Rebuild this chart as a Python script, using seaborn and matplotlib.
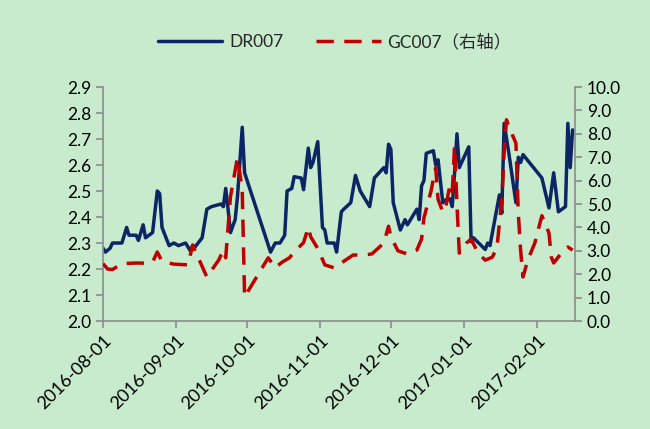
import pandas as pd
import matplotlib
matplotlib.use('Agg')
import matplotlib.pyplot as plt
import matplotlib.dates as mdates
import seaborn as sns

# DR007 (left axis)
dr_dates = ['2016-08-01', '2016-08-02', '2016-08-04', '2016-08-05', '2016-08-09', '2016-08-11',
            '2016-08-12', '2016-08-15', '2016-08-16', '2016-08-18', '2016-08-19', '2016-08-22',
            '2016-08-24', '2016-08-25', '2016-08-26', '2016-08-29', '2016-08-31', '2016-09-02',
            '2016-09-05', '2016-09-07', '2016-09-08', '2016-09-09', '2016-09-12', '2016-09-14',
            '2016-09-16', '2016-09-20', '2016-09-21', '2016-09-22', '2016-09-23', '2016-09-24',
            '2016-09-26', '2016-09-27', '2016-09-29', '2016-09-30', '2016-10-11', '2016-10-13',
            '2016-10-15', '2016-10-17', '2016-10-18', '2016-10-20', '2016-10-21', '2016-10-24',
            '2016-10-25', '2016-10-27', '2016-10-28', '2016-10-29', '2016-10-31', '2016-11-02',
            '2016-11-03', '2016-11-04', '2016-11-07', '2016-11-08', '2016-11-10', '2016-11-11',
            '2016-11-14', '2016-11-16', '2016-11-18', '2016-11-22', '2016-11-24', '2016-11-28',
            '2016-11-29', '2016-11-30', '2016-12-01', '2016-12-02', '2016-12-05', '2016-12-07',
            '2016-12-08', '2016-12-12', '2016-12-13', '2016-12-14', '2016-12-15', '2016-12-16',
            '2016-12-19', '2016-12-20', '2016-12-21', '2016-12-23', '2016-12-24', '2016-12-26',
            '2016-12-27', '2016-12-28', '2016-12-29', '2016-12-30', '2017-01-03', '2017-01-04',
            '2017-01-05', '2017-01-10', '2017-01-11', '2017-01-12', '2017-01-16', '2017-01-17',
            '2017-01-18', '2017-01-20', '2017-01-23', '2017-01-24', '2017-01-25', '2017-01-26',
            '2017-02-03', '2017-02-06', '2017-02-08', '2017-02-10', '2017-02-13', '2017-02-14',
            '2017-02-15', '2017-02-16']
dr_values = [2.28, 2.265, 2.28, 2.30, 2.30, 2.36,
             2.33, 2.33, 2.31, 2.37, 2.32, 2.34,
             2.50, 2.49, 2.36, 2.29, 2.30, 2.29,
             2.30, 2.27, 2.29, 2.285, 2.32, 2.43,
             2.44, 2.45, 2.44, 2.51, 2.43, 2.34,
             2.39, 2.48, 2.745, 2.57, 2.265, 2.30,
             2.30, 2.33, 2.50, 2.51, 2.555, 2.55,
             2.505, 2.665, 2.59, 2.61, 2.69, 2.36,
             2.35, 2.30, 2.30, 2.265, 2.42, 2.43,
             2.455, 2.56, 2.50, 2.44, 2.55, 2.59,
             2.57, 2.68, 2.66, 2.455, 2.35, 2.39,
             2.37, 2.43, 2.39, 2.52, 2.54, 2.645,
             2.655, 2.60, 2.62, 2.455, 2.465, 2.47,
             2.44, 2.57, 2.72, 2.59, 2.67, 2.305,
             2.32, 2.275, 2.30, 2.29, 2.485, 2.415,
             2.76, 2.645, 2.455, 2.63, 2.61, 2.64,
             2.55, 2.435, 2.57, 2.42, 2.44, 2.76,
             2.59, 2.735]

# GC007 (right axis)
gc_dates = ['2016-08-01', '2016-08-03', '2016-08-05', '2016-08-09', '2016-08-15', '2016-08-19',
            '2016-08-22', '2016-08-24', '2016-08-26', '2016-08-31', '2016-09-06', '2016-09-08',
            '2016-09-14', '2016-09-19', '2016-09-21', '2016-09-22', '2016-09-24', '2016-09-27',
            '2016-09-29', '2016-09-30', '2016-10-10', '2016-10-13', '2016-10-16', '2016-10-19',
            '2016-10-21', '2016-10-25', '2016-10-27', '2016-10-28', '2016-10-31', '2016-11-03',
            '2016-11-07', '2016-11-11', '2016-11-15', '2016-11-20', '2016-11-23', '2016-11-28',
            '2016-11-30', '2016-12-01', '2016-12-04', '2016-12-08', '2016-12-12', '2016-12-14',
            '2016-12-15', '2016-12-18', '2016-12-20', '2016-12-21', '2016-12-23', '2016-12-24',
            '2016-12-26', '2016-12-27', '2016-12-28', '2016-12-29', '2016-12-30', '2017-01-02',
            '2017-01-04', '2017-01-07', '2017-01-10', '2017-01-13', '2017-01-15', '2017-01-16',
            '2017-01-17', '2017-01-18', '2017-01-19', '2017-01-20', '2017-01-23', '2017-01-24',
            '2017-01-25', '2017-01-26', '2017-01-28', '2017-01-31', '2017-02-03', '2017-02-06',
            '2017-02-07', '2017-02-08', '2017-02-12', '2017-02-14', '2017-02-16']
gc_values = [2.45, 2.22, 2.20, 2.45, 2.48, 2.47,
             2.52, 2.95, 2.55, 2.43, 2.40, 3.25,
             1.88, 2.60, 3.03, 2.70, 5.30, 7.00,
             5.60, 1.03, 2.70, 2.28, 2.52, 2.70,
             2.95, 3.35, 4.00, 3.60, 3.10, 2.40,
             2.27, 2.55, 2.82, 2.82, 2.87, 3.33,
             4.05, 3.60, 3.00, 2.86, 3.03, 3.50,
             4.40, 5.55, 6.55, 5.20, 4.66, 4.74,
             5.80, 5.50, 7.50, 5.00, 2.90, 3.33,
             3.50, 2.90, 2.60, 2.73, 3.16, 4.20,
             5.17, 7.20, 8.60, 8.30, 7.60, 4.60,
             3.00, 1.88, 2.60, 3.33, 4.50, 3.76,
             2.73, 2.48, 3.00, 3.16, 3.03]

left_ticks = [2.0, 2.1, 2.2, 2.3, 2.4, 2.5, 2.6, 2.7, 2.8, 2.9]
right_ticks = [0, 1, 2, 3, 4, 5, 6, 7, 8, 9, 10]

dr = pd.DataFrame({'date': pd.to_datetime(dr_dates), 'value': dr_values})
gc = pd.DataFrame({'date': pd.to_datetime(gc_dates), 'value': gc_values})

bg = '#c8ebcd'
grey = '#8c8c8c'

sns.set_style('ticks')
plt.rcParams['font.family'] = ['Lato', 'Noto Sans CJK SC', 'DejaVu Sans']

fig = plt.figure(figsize=(6.5, 4.29), dpi=100, facecolor=bg)
ax = fig.add_axes([0.1585, 0.2517, 0.726, 0.5455])
ax.set_facecolor(bg)
ax2 = ax.twinx()

sns.lineplot(data=dr, x='date', y='value', ax=ax, color='#0b2565', linewidth=2.5,
             label='DR007', legend=False)
sns.lineplot(data=gc, x='date', y='value', ax=ax2, color='#c00000', linewidth=2.5,
             linestyle=(0, (5.0, 3.0)), label='GC007（右轴）', legend=False)

ax.set_ylim(2.0, 2.9)
ax.set_yticks(left_ticks)
ax.set_yticklabels([f'{v:.1f}' for v in left_ticks])
ax2.set_ylim(0, 10)
ax2.set_yticks(right_ticks)
ax2.set_yticklabels([f'{v:.1f}' for v in right_ticks])

ax.set_xlim(pd.Timestamp('2016-08-01'), pd.Timestamp('2017-02-17'))
ax.xaxis.set_major_locator(mdates.MonthLocator(bymonthday=1))
ax.xaxis.set_major_formatter(mdates.DateFormatter('%Y-%m-%d'))

ax.set_xlabel('')
ax.set_ylabel('')
ax2.set_ylabel('')

for a in (ax, ax2):
    for s in a.spines.values():
        s.set_color(grey)
        s.set_linewidth(1.2)
    a.spines['top'].set_visible(False)
    a.tick_params(colors=grey, labelcolor='black', labelsize=12.5, length=5, width=1.2)
ax.spines['right'].set_visible(False)
ax2.spines['left'].set_visible(False)
ax2.spines['bottom'].set_visible(False)
ax.tick_params(axis='x', pad=3, labelsize=13)
plt.setp(ax.get_xticklabels(), rotation=45, ha='right', rotation_mode='anchor')

handles = ax.get_lines()[:1] + ax2.get_lines()[:1]
fig.legend(handles, ['DR007', 'GC007（右轴）'], loc='center', bbox_to_anchor=(0.515, 0.903),
           ncol=2, frameon=False, fontsize=12.5, handlelength=3.7, handletextpad=0.4,
           columnspacing=1.9)

fig.savefig('out.png', dpi=100, facecolor=bg)
